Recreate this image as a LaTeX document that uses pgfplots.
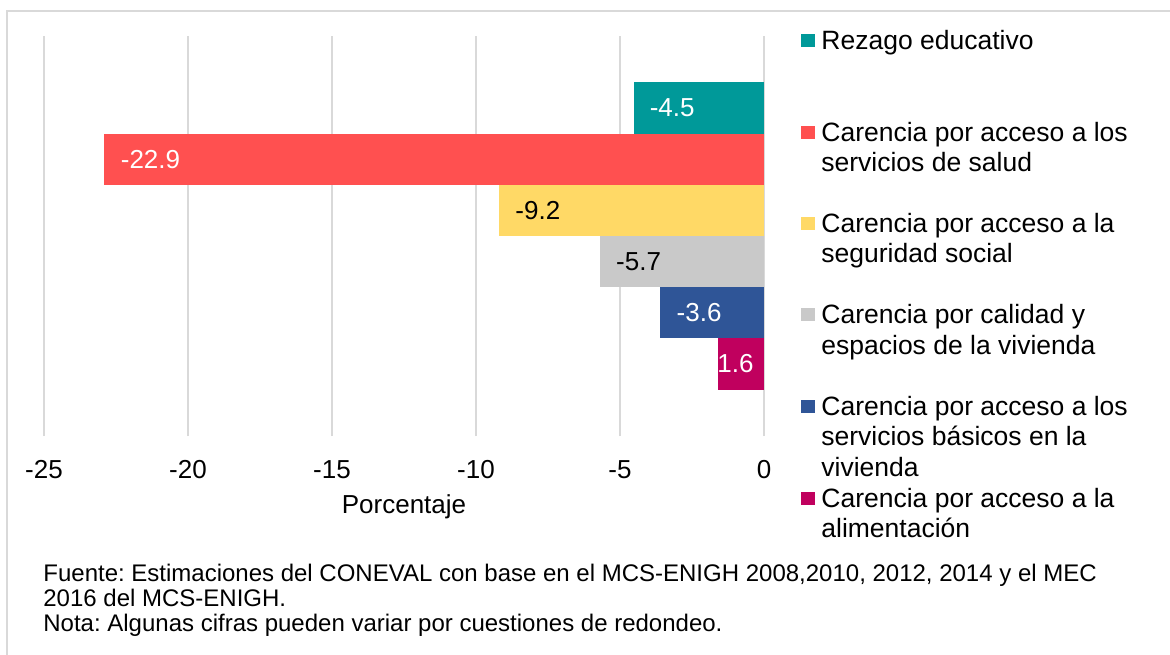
\documentclass[border=0pt]{standalone}
\usepackage{fontspec}
\setmainfont{Liberation Sans}
\usepackage{pgfplots}
\pgfplotsset{compat=1.18}
\frenchspacing

\definecolor{cTeal}{HTML}{009999}
\definecolor{cRed}{HTML}{FF5050}
\definecolor{cYellow}{HTML}{FFD966}
\definecolor{cGray}{HTML}{C9C9C9}
\definecolor{cBlue}{HTML}{2F5597}
\definecolor{cMag}{HTML}{C0005E}
\definecolor{cGrid}{HTML}{D9D9D9}

\newcommand{\lf}{\fontsize{13}{15}\selectfont}
\newcommand{\gf}{\fontsize{13.25}{15}\selectfont}
\newcommand{\ff}{\fontsize{12}{14}\selectfont}

\begin{document}
\begin{tikzpicture}
% pixel grid of the reference: 1 px = 0.5pt, y downwards
\begin{scope}[x=0.5pt,y=-0.5pt]
  \useasboundingbox (0,0) rectangle (1170,654);
  \draw[cGrid, line width=1pt] (7,660) -- (7,11) -- (1180,11);
\end{scope}

\begin{axis}[
    at={(22pt,-218pt)}, anchor=south west,
    scale only axis, width=360pt, height=200pt,
    xmin=-25, xmax=0, ymin=-0.406, ymax=7.406,
    xbar, bar width=1,
    axis line style={draw=none},
    major tick length=0pt,
    ytick=\empty,
    xtick={-25,-20,-15,-10,-5,0},
    xticklabels={-25,-20,-15,-10,-5,0},
    xmajorgrids, grid style={cGrid, line width=1pt},
    x tick label style={font=\lf, anchor=center, yshift=-16.75pt},
    xlabel={Porcentaje},
    xlabel style={font=\lf, at={(axis description cs:0.5,0)},
                  anchor=center, yshift=-35.5pt},
    point meta=explicit symbolic,
    nodes near coords,
  ]
  \addplot[fill=cTeal, draw=none, bar shift=0pt,
    every node near coord/.append style={font=\lf, text=white, inner sep=0pt, anchor=west, xshift=7.5pt}]
    coordinates {(-4.5,6) [-4.5]};
  \addplot[fill=cRed, draw=none, bar shift=0pt,
    every node near coord/.append style={font=\lf, text=white, inner sep=0pt, anchor=west, xshift=8pt}]
    coordinates {(-22.9,5) [-22.9]};
  \addplot[fill=cYellow, draw=none, bar shift=0pt,
    every node near coord/.append style={font=\lf, text=black, inner sep=0pt, anchor=west, xshift=8pt}]
    coordinates {(-9.2,4) [-9.2]};
  \addplot[fill=cGray, draw=none, bar shift=0pt,
    every node near coord/.append style={font=\lf, text=black, inner sep=0pt, anchor=west, xshift=8pt}]
    coordinates {(-5.7,3) [-5.7]};
  \addplot[fill=cBlue, draw=none, bar shift=0pt,
    every node near coord/.append style={font=\lf, text=white, inner sep=0pt, anchor=west, xshift=8pt}]
    coordinates {(-3.6,2) [-3.6]};
  \addplot[fill=cMag, draw=none, bar shift=0pt,
    every node near coord/.append style={font=\lf, text=white, inner sep=0pt, anchor=west, xshift=-0.5pt}]
    coordinates {(-1.6,1) [1.6]};
\end{axis}

\begin{scope}[x=0.5pt,y=-0.5pt, every node/.style={anchor=base west, inner sep=0pt, font=\gf}]
  % legend
  \fill[cTeal]   (801,34)  rectangle (815,47);
  \node at (821,49)  {Rezago educativo};
  \fill[cRed]    (801,126) rectangle (815,139);
  \node at (821,141) {Carencia por acceso a los};
  \node at (821,171) {servicios de salud};
  \fill[cYellow] (801,217) rectangle (815,230);
  \node at (821,232) {Carencia por acceso a la};
  \node at (821,262) {seguridad social};
  \fill[cGray]   (801,308) rectangle (815,321);
  \node at (821,323) {Carencia por calidad y};
  \node at (821,354) {espacios de la vivienda};
  \fill[cBlue]   (801,400) rectangle (815,413);
  \node at (821,415) {Carencia por acceso a los};
  \node at (821,445) {servicios básicos en la};
  \node at (821,476) {vivienda};
  \fill[cMag]    (801,492) rectangle (815,505);
  \node at (821,507) {Carencia por acceso a la};
  \node at (821,537) {alimentación};
  % source note
  \node[font=\ff] at (43,581) {Fuente: Estimaciones del CONEVAL con base en el MCS-ENIGH 2008,2010, 2012, 2014 y el MEC};
  \node[font=\ff] at (43,606) {2016 del MCS-ENIGH.};
  \node[font=\ff] at (43,631) {Nota: Algunas cifras pueden variar por cuestiones de redondeo.};
\end{scope}
\end{tikzpicture}
\end{document}
